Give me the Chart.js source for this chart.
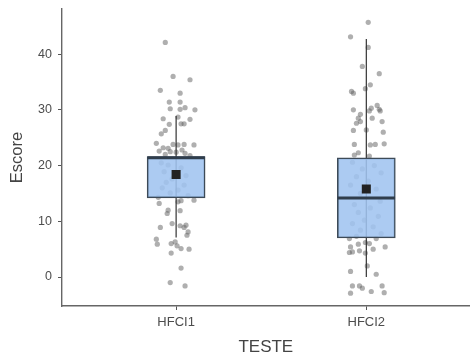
<!DOCTYPE html>
<html>
<head>
<meta charset="utf-8">
<script src="https://cdn.jsdelivr.net/npm/chart.js@4"></script>
<style>
  body { margin: 0; background: #fff; }
  #chart { display: block; }
</style>
</head>
<body>
<canvas id="chart" width="476" height="358"></canvas>
<script>
// categories and box statistics
var categories = ['HFCI1', 'HFCI2'];
var q1 = [14.2, 7.0];
var q3 = [21.6, 21.4];
var medians = [21.4, 14.2];
var means = [18.4, 15.8];
var whiskerLow = [7.1, 0.0];
var whiskerHigh = [28.9, 42.7];
var yTicks = [0, 10, 20, 30, 40];

// jittered raw scores; jitter = horizontal offset in category units
var hfci1Scores = [42.1, 36.0, 35.4, 33.5, 33.0, 31.4, 31.4, 30.2, 30.1, 30.4, 30.0, 28.4, 28.7, 28.3,
  27.4, 27.5, 27.5, 26.3, 25.7, 24.0, 23.2, 23.1, 23.8, 23.7, 23.8, 23.7, 22.6, 22.5, 22.8, 22.2,
  21.8, 22.4, 22.0, 20.5, 20.1, 19.6, 18.9, 18.2, 17.6, 17.0, 16.5, 16.0, 15.6, 15.1, 14.6, 14.3,
  13.2, 13.5, 13.7, 13.8, 12.0, 11.4, 11.9, 8.9, 9.6, 9.2, 8.9, 9.3, 8.1, 7.5, 6.8, 5.9, 6.0, 6.3,
  5.6, 5.1, 5.0, 4.3, 1.6, -1.0, -1.6];
var hfci1Jitter = [-0.057, -0.016, 0.073, -0.083, 0.021, -0.036, 0.021, -0.031, 0.021, 0.047, 0.099,
  -0.068, 0.010, 0.073, -0.036, 0.026, 0.042, -0.057, -0.078, -0.104, -0.068, -0.042, -0.016, 0.010,
  0.042, 0.094, -0.089, -0.031, 0.031, 0.047, 0.073, 0.0, -0.057, -0.078, -0.042, 0.026, -0.063,
  0.052, -0.021, -0.052, 0.042, -0.073, 0.010, -0.031, 0.063, -0.094, -0.089, 0.010, 0.026, 0.094,
  -0.042, -0.047, 0.021, -0.083, -0.021, 0.021, 0.042, 0.052, 0.063, 0.057, -0.104, -0.099, -0.026,
  -0.005, 0.005, 0.026, 0.068, -0.026, 0.026, -0.031, 0.047];

var hfci2Scores = [45.7, 43.1, 41.2, 37.8, 36.5, 34.5, 33.8, 33.3, 33.0, 30.3, 30.8, 30.1, 30.0,
  29.2, 29.8, 29.8, 28.5, 28.5, 27.6, 27.9, 27.9, 26.3, 26.4, 26.0, 23.8, 23.7, 23.8, 23.9, 21.9,
  22.3, 21.7, 20.6, 20.0, 19.4, 18.7, 18.0, 17.2, 16.5, 15.8, 15.0, 13.6, 13.0, 12.4, 11.6, 10.9,
  10.2, 9.6, 9.0, 8.4, 7.8, 7.3, 6.9, 6.9, 5.4, 5.9, 6.2, 6.0, 4.4, 4.5, 4.7, 4.3, 5.0, 5.4, 2.0,
  1.0, 0.5, -1.6, -1.6, -2.0, -2.6, -1.6, -2.9, -2.8];
var hfci2Jitter = [0.010, -0.083, 0.010, -0.021, 0.068, 0.021, -0.005, -0.078, -0.068, 0.026, 0.057,
  0.068, -0.068, -0.031, 0.016, 0.073, -0.042, 0.031, -0.052, -0.031, 0.083, -0.068, 0.0, 0.089,
  -0.063, 0.021, 0.047, 0.094, -0.063, -0.042, 0.016, -0.073, 0.042, -0.021, 0.078, -0.052, 0.010,
  -0.083, 0.052, -0.031, 0.073, -0.063, 0.021, -0.042, 0.063, -0.010, -0.073, 0.036, -0.031, 0.078,
  -0.052, -0.089, 0.052, -0.083, -0.042, -0.005, 0.016, -0.089, -0.073, -0.036, -0.005, 0.036,
  0.099, 0.005, -0.083, 0.052, -0.073, -0.036, -0.021, 0.026, 0.083, -0.083, 0.094];

var scores = [hfci1Scores, hfci2Scores];
var jitter = [hfci1Jitter, hfci2Jitter];

var FONT = "'Liberation Sans', Arial, sans-serif";
var boxHalf = 0.151;

var pointData = [];
scores.forEach(function(list, i) {
  list.forEach(function(v, j) {
    pointData.push({ x: i + 1 + jitter[i][j], y: v });
  });
});

var datasets = [];

// raw points, drawn first
datasets.push({
  type: 'scatter',
  data: pointData,
  pointRadius: 2.6,
  pointBackgroundColor: 'rgba(95,95,95,0.5)',
  pointBorderWidth: 0,
  order: 5
});

categories.forEach(function(c, i) {
  // whisker
  datasets.push({
    type: 'line',
    data: [{ x: i + 1, y: whiskerLow[i] }, { x: i + 1, y: whiskerHigh[i] }],
    borderColor: '#333',
    borderWidth: 1.2,
    pointRadius: 0,
    order: 4
  });
  // median
  datasets.push({
    type: 'line',
    data: [{ x: i + 1 - boxHalf, y: medians[i] }, { x: i + 1 + boxHalf, y: medians[i] }],
    borderColor: '#2f3d4c',
    borderWidth: 3,
    pointRadius: 0,
    order: 2
  });
});

// boxes
datasets.push({
  type: 'bar',
  data: categories.map(function(c, i) { return { x: i + 1, y: [q1[i], q3[i]] }; }),
  backgroundColor: 'rgba(160,196,240,0.88)',
  borderColor: '#3d4a57',
  borderWidth: 1.5,
  borderSkipped: false,
  barThickness: 58,
  order: 3
});

// means
datasets.push({
  type: 'scatter',
  data: categories.map(function(c, i) { return { x: i + 1, y: means[i] }; }),
  pointStyle: 'rect',
  pointRadius: 6.4,
  pointBackgroundColor: '#222',
  pointBorderColor: '#222',
  pointBorderWidth: 0,
  order: 1
});

new Chart(document.getElementById('chart'), {
  type: 'bar',
  data: { datasets: datasets },
  options: {
    responsive: false,
    animation: false,
    layout: { padding: { top: 9, right: 0, left: 0, bottom: 0 } },
    plugins: { legend: { display: false }, tooltip: { enabled: false } },
    scales: {
      x: {
        type: 'linear',
        offset: false,
        min: 0.4,
        max: 2.543,
        afterBuildTicks: function(scale) {
          scale.ticks = categories.map(function(c, i) { return { value: i + 1 }; });
        },
        afterFit: function(scale) {
          scale.height = 52;
          scale.paddingLeft = 0;
          scale.paddingRight = 0;
        },
        ticks: {
          callback: function(v) { return categories[v - 1]; },
          font: { family: FONT, size: 13 },
          color: '#4d4d4d',
          padding: 5,
          maxRotation: 0
        },
        grid: { offset: false, drawOnChartArea: false, drawTicks: true, tickLength: 4, color: '#555', tickWidth: 1 },
        border: { color: '#666', width: 1.4 },
        title: { display: true, text: 'TESTE', font: { family: FONT, size: 17 }, color: '#444', padding: 0 }
      },
      y: {
        type: 'linear',
        min: -5.2,
        max: 48.1,
        afterBuildTicks: function(scale) {
          scale.ticks = yTicks.map(function(v) { return { value: v }; });
        },
        afterFit: function(scale) {
          scale.width = 62;
          scale.paddingTop = 0;
          scale.paddingBottom = 0;
        },
        ticks: {
          font: { family: FONT, size: 12.5 },
          color: '#4d4d4d',
          padding: 6
        },
        grid: { drawOnChartArea: false, drawTicks: true, tickLength: 4, color: '#555', tickWidth: 1 },
        border: { color: '#666', width: 1.4 },
        title: { display: true, text: 'Escore', font: { family: FONT, size: 16.5 }, color: '#444', padding: { top: 8, bottom: 0 } }
      }
    }
  }
});
</script>
</body>
</html>
